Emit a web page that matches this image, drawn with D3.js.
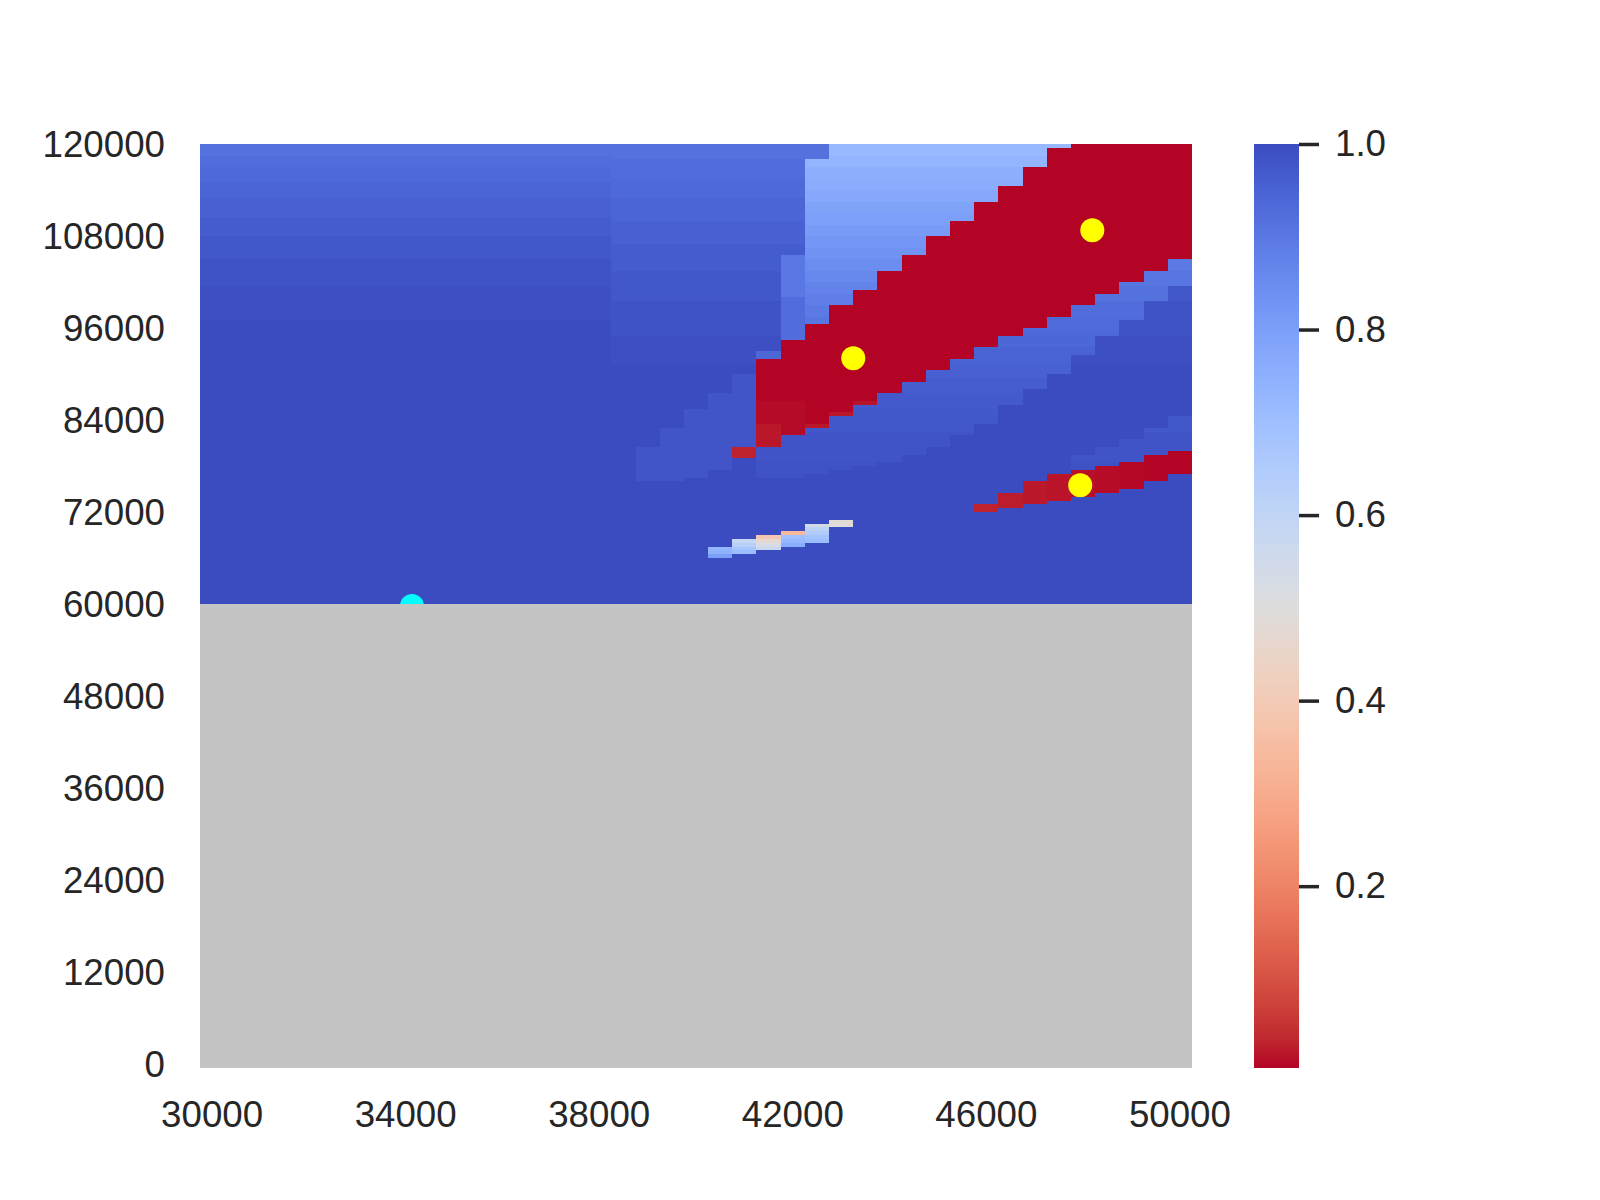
<!DOCTYPE html>
<html>
<head>
<meta charset="utf-8">
<script src="https://cdn.jsdelivr.net/npm/d3@7"></script>
<style>
  body { margin: 0; background: #fff; }
  svg text { font-family: "Liberation Sans", Arial, sans-serif; fill: #262626; }
</style>
</head>
<body>
<svg id="chart" width="1600" height="1200"></svg>
<script>
// grid: columns every 500 on x, rows every 500 on y (top row first)
const xCats = d3.range(30000, 50001, 500);
const yCats = d3.range(120000, -1, -500);
const xTicks = [30000, 34000, 38000, 42000, 46000, 50000];
const yTicks = [120000, 108000, 96000, 84000, 72000, 60000, 48000, 36000, 24000, 12000, 0];
const cbTicks = [0.2, 0.4, 0.6, 0.8, 1.0];
const vmin = 0.004, vmax = 1.0;
const noDataAtOrBelow = 60000;   // rows y <= this are empty (grey)
const baseValue = 1.0;
const redValue = 0.004;
const stairValue = 0.98;

// markers
const optimaX = [43250, 48190, 47940];
const optimaY = [92300, 109000, 75740];
const startX = [34130];
const startY = [60000];

// vertical profiles: [y top, y bottom, value]
const gradWest = [
  [120000, 119000, 0.915], [118500, 117500, 0.925], [117000, 115500, 0.935],
  [115000, 113500, 0.945], [113000, 111000, 0.955], [110500, 108500, 0.965],
  [108000, 105500, 0.975], [105000, 102000, 0.985], [101500, 97500, 0.993]
];
const gradMid = [
  [120000, 118500, 0.915], [118000, 116000, 0.925], [115500, 113500, 0.935],
  [113000, 110500, 0.945], [110000, 107500, 0.955], [107000, 104000, 0.965],
  [103500, 100000, 0.975], [99500, 95500, 0.985], [95000, 92000, 0.993]
];
const gradLight = [
  [120000, 119000, 0.72], [118500, 117500, 0.735], [117000, 116000, 0.75],
  [115500, 114500, 0.762], [114000, 113000, 0.775], [112500, 111500, 0.787],
  [111000, 110000, 0.798], [109500, 108500, 0.81], [108000, 107000, 0.822],
  [106500, 105500, 0.835], [105000, 104000, 0.848], [103500, 102500, 0.86],
  [102000, 101000, 0.873], [100500, 99500, 0.885], [99000, 98000, 0.895],
  [97500, 96500, 0.905]
];
const gradBand = [
  [105500, 104000, 0.895], [103500, 102000, 0.905], [101500, 100000, 0.915],
  [99500, 98000, 0.925], [97500, 96000, 0.933], [95500, 94000, 0.94],
  [93500, 92000, 0.948], [91500, 90000, 0.955], [89500, 88000, 0.962],
  [87500, 86000, 0.968], [85500, 83000, 0.975], [82500, 79000, 0.982],
  [78500, 72500, 0.988]
];

// main red ridge and the paler band under it
const bandX    = [41500, 42000, 42500, 43000, 43500, 44000, 44500, 45000, 45500, 46000, 46500, 47000, 47500, 48000, 48500, 49000, 49500, 50000];
const redTopY  = [92000, 94500, 96500, 99000, 101000, 103500, 105500, 108000, 110000, 112500, 114500, 117000, 119500, 120000, 120000, 120000, 120000, 120000];
const redBotY  = [81000, 82500, 83500, 85000, 86500, 88000, 89500, 91000, 92500, 94000, 95500, 96500, 98000, 99500, 101000, 102500, 104000, 105500];
const bandBotY = [77000, 77000, 77500, 78000, 78500, 79000, 80000, 81000, 82500, 84000, 86500, 88500, 90500, 93000, 95500, 97500, 100000, 102000];

// light wedge above the ridge
const lightX    = [42500, 43000, 43500, 44000, 44500, 45000, 45500, 46000, 46500, 47000, 47500];
const lightTopY = [118000, 120000, 120000, 120000, 120000, 120000, 120000, 120000, 120000, 120000, 120000];

// faint steps left of the ridge
const stairX    = [39000, 39500, 40000, 40500, 41000];
const stairTopY = [80500, 83000, 85500, 87500, 90000];
const stairBotY = [76500, 76500, 77000, 78000, 81000];

// second (thin) red ridge
const red2X    = [46000, 46500, 47000, 47500, 48000, 48500, 49000, 49500, 50000];
const red2TopY = [73000, 74500, 76000, 77000, 77500, 78000, 78500, 79500, 80000];
const red2BotY = [72500, 73000, 73500, 74000, 74500, 75000, 75500, 76500, 77500];
const red2Val  = [0.03, 0.026, 0.022, 0.018, 0.014, 0.011, 0.008, 0.005, 0.004];
const preX     = [48000, 48500, 49000, 49500, 50000];
const preTopY  = [79500, 80500, 81500, 83000, 84500];

// single cells / short runs: [x, y top, y bottom, value]
const patches = [
  [41000, 80500, 79500, 0.03],
  [41500, 93000, 92500, 0.94],
  [41500, 86500, 84000, 0.01], [41500, 83500, 81000, 0.02],
  [42000, 105500, 100500, 0.9], [42000, 100000, 95000, 0.925],
  [42000, 86500, 82500, 0.01],
  [42500, 83500, 83500, 0.02], [43000, 85000, 85000, 0.02], [43500, 86500, 86500, 0.018],
  // pale streak
  [40500, 67500, 67500, 0.73], [40500, 67000, 67000, 0.745], [40500, 66500, 66500, 0.8],
  [41000, 68500, 68500, 0.59], [41000, 68000, 68000, 0.63], [41000, 67500, 67500, 0.68], [41000, 67000, 67000, 0.71],
  [41500, 69000, 69000, 0.39], [41500, 68500, 68500, 0.47], [41500, 68000, 68000, 0.53], [41500, 67500, 67500, 0.57],
  [42000, 69500, 69500, 0.34], [42000, 69000, 69000, 0.7], [42000, 68500, 68500, 0.725], [42000, 68000, 68000, 0.76],
  [42500, 70500, 70500, 0.54], [42500, 70000, 70000, 0.61], [42500, 69500, 69500, 0.65], [42500, 69000, 69000, 0.69], [42500, 68500, 68500, 0.71],
  [43000, 71000, 71000, 0.48], [43000, 70500, 70500, 0.5]
];

// matplotlib coolwarm table
const coolwarm = [
  [59,76,192],[68,90,204],[77,104,215],[87,117,225],[98,130,234],[108,142,241],[119,154,247],[130,165,251],
  [141,176,254],[152,185,255],[163,194,255],[174,201,253],[184,208,249],[194,213,244],[204,217,238],[213,219,230],
  [221,221,221],[229,216,209],[236,211,197],[241,204,185],[245,196,173],[247,187,160],[247,177,148],[247,166,135],
  [244,154,123],[241,141,111],[236,127,99],[229,112,88],[222,96,77],[213,80,66],[203,62,56],[192,40,47],[180,4,38]
];
const cw = d3.scaleLinear()
  .domain(coolwarm.map((c, i) => i / (coolwarm.length - 1)))
  .range(coolwarm.map(c => d3.rgb(c[0], c[1], c[2])))
  .interpolate(d3.interpolateRgb)
  .clamp(true);
const colorOf = v => cw(1 - (v - vmin) / (vmax - vmin));

function fromProfile(segs, yv){
  for(const [a, b, v] of segs){
    if(yv <= a && yv >= b) return v;
  }
  return null;
}

function cellValue(xv, yv){
  if(yv <= noDataAtOrBelow) return null;
  let v = baseValue;
  const p = xv <= 38000 ? fromProfile(gradWest, yv) : fromProfile(gradMid, yv);
  if(p !== null) v = p;

  const li = lightX.indexOf(xv);
  const bi = bandX.indexOf(xv);
  if(li >= 0 && yv <= lightTopY[li] && yv > redTopY[bi]){
    v = fromProfile(gradLight, yv) ?? v;
  }
  const si = stairX.indexOf(xv);
  if(si >= 0 && yv <= stairTopY[si] && yv >= stairBotY[si]) v = stairValue;

  if(bi >= 0){
    if(yv <= redTopY[bi] && yv >= redBotY[bi]) v = redValue;
    else if(yv < redBotY[bi] && yv >= bandBotY[bi]) v = fromProfile(gradBand, yv) ?? v;
  }
  const pi = preX.indexOf(xv);
  const ri = red2X.indexOf(xv);
  if(pi >= 0 && yv <= preTopY[pi] && yv > red2TopY[ri]) v = fromProfile(gradBand, yv) ?? v;
  if(ri >= 0 && yv <= red2TopY[ri] && yv >= red2BotY[ri]) v = red2Val[ri];

  for(const [px, a, b, pv] of patches){
    if(px === xv && yv <= a && yv >= b) v = pv;
  }
  return v;
}

const cells = [];
for(const yv of yCats){
  for(const xv of xCats){
    cells.push({x: xv, y: yv, v: cellValue(xv, yv)});
  }
}

const plot = {left: 200, right: 1192, top: 144, bottom: 1068};
const cbar = {left: 1254, right: 1299};

const x = d3.scaleBand().domain(xCats).range([plot.left, plot.right]);
const y = d3.scaleBand().domain(yCats).range([plot.top, plot.bottom]);
const xLin = d3.scaleLinear().domain([30000 - 250, 50000 + 250]).range([plot.left, plot.right]);
const yLin = d3.scaleLinear().domain([120000 + 250, -250]).range([plot.top, plot.bottom]);

const svg = d3.select("#chart");

svg.append("defs").append("clipPath").attr("id", "plotClip")
  .append("rect")
    .attr("x", plot.left).attr("y", plot.top)
    .attr("width", plot.right - plot.left).attr("height", plot.bottom - plot.top);

const heat = svg.append("g").attr("clip-path", "url(#plotClip)");

heat.append("g").classed("cells", true)
  .attr("shape-rendering", "crispEdges")
  .selectAll("rect")
  .data(cells.filter(d => d.v !== null))
  .enter().append("rect")
    .attr("x", d => x(d.x))
    .attr("y", d => y(d.y))
    .attr("width", x.bandwidth() + 0.6)
    .attr("height", y.bandwidth() + 0.6)
    .attr("fill", d => colorOf(d.v));

heat.append("g").classed("optima", true)
  .selectAll("circle")
  .data(optimaX.map((d, i) => ({x: d, y: optimaY[i]})))
  .enter().append("circle")
    .attr("cx", d => xLin(d.x))
    .attr("cy", d => yLin(d.y))
    .attr("r", 12)
    .attr("fill", "#ffff00");

heat.append("g").classed("start", true)
  .selectAll("circle")
  .data(startX.map((d, i) => ({x: d, y: startY[i]})))
  .enter().append("circle")
    .attr("cx", d => xLin(d.x))
    .attr("cy", d => yLin(d.y))
    .attr("r", 12)
    .attr("fill", "#00ffff");

// empty cells painted over everything
heat.append("g").classed("empty", true)
  .attr("shape-rendering", "crispEdges")
  .selectAll("rect")
  .data(cells.filter(d => d.v === null))
  .enter().append("rect")
    .attr("x", d => x(d.x))
    .attr("y", d => y(d.y))
    .attr("width", x.bandwidth() + 0.6)
    .attr("height", y.bandwidth() + 0.6)
    .attr("fill", "#c4c4c4");

const fontSize = "36.7px";

svg.append("g")
  .attr("transform", `translate(0,${plot.bottom})`)
  .call(d3.axisBottom(x).tickValues(xTicks).tickSize(0).tickPadding(33))
  .call(g => g.select(".domain").remove())
  .call(g => g.selectAll("text").attr("font-size", fontSize).attr("font-family", null));

svg.append("g")
  .attr("transform", `translate(${plot.left},0)`)
  .call(d3.axisLeft(y).tickValues(yTicks).tickSize(0).tickPadding(35))
  .call(g => g.select(".domain").remove())
  .call(g => g.selectAll("text").attr("font-size", fontSize).attr("font-family", null).attr("dy", "0.3em"));

// colorbar
const grad = svg.select("defs").append("linearGradient")
  .attr("id", "cbGrad").attr("x1", 0).attr("y1", 0).attr("x2", 0).attr("y2", 1);
grad.selectAll("stop")
  .data(coolwarm)
  .enter().append("stop")
    .attr("offset", (d, i) => i / (coolwarm.length - 1))
    .attr("stop-color", d => d3.rgb(d[0], d[1], d[2]));

svg.append("rect")
  .attr("x", cbar.left).attr("y", plot.top)
  .attr("width", cbar.right - cbar.left).attr("height", plot.bottom - plot.top)
  .attr("fill", "url(#cbGrad)");

const cScale = d3.scaleLinear().domain([vmin, vmax]).range([plot.bottom, plot.top]);
svg.append("g")
  .attr("transform", `translate(${cbar.right},0)`)
  .call(d3.axisRight(cScale).tickValues(cbTicks).tickSize(20).tickPadding(16).tickFormat(d3.format(".1f")))
  .call(g => g.select(".domain").remove())
  .call(g => g.selectAll("line").attr("stroke", "#262626").attr("stroke-width", 3.5))
  .call(g => g.selectAll("text").attr("font-size", fontSize).attr("font-family", null));
</script>
</body>
</html>
